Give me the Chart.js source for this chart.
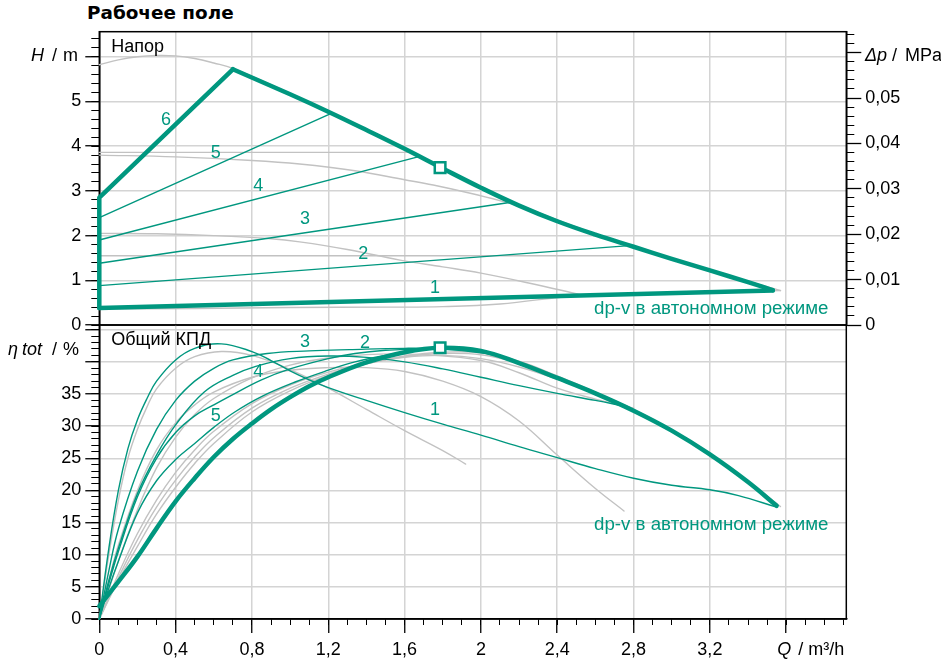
<!DOCTYPE html>
<html>
<head>
<meta charset="utf-8">
<script src="https://cdn.jsdelivr.net/npm/chart.js@4.4.1/dist/chart.umd.min.js"></script>
<style>
  html, body { margin: 0; padding: 0; background: #fff; }
  #wrap { position: relative; width: 941px; height: 663px; overflow: hidden; }
  #title { position: absolute; left: 87px; top: 2px; font: bold 18.4px "DejaVu Sans", sans-serif; color: #000; }
  canvas { position: absolute; left: 0; }
  #cHead { top: 0; }
  #cEff { top: 310px; }
</style>
</head>
<body>
<div id="wrap">
  <div id="title">Рабочее поле</div>
  <canvas id="cHead" width="941" height="345"></canvas>
  <canvas id="cEff" width="941" height="353"></canvas>
</div>
<script>
/* Рабочее поле — напор и КПД насоса (dp-v) */

// ── Axis ranges / tick labels ─────────────────────────────
const Q_MAX = 3.915, H_MAX = 6.56, ETA_MAX = 45.73;
const MPA_PER_M = 0.00985;
const qTickLabels   = [0, 0.4, 0.8, 1.2, 1.6, 2, 2.4, 2.8, 3.2];
const hTickLabels   = [0, 1, 2, 3, 4, 5];
const pTickLabels   = [0, 0.01, 0.02, 0.03, 0.04, 0.05];
const etaTickLabels = [0, 5, 10, 15, 20, 25, 30, 35];

// ── Head chart: [Q m³/h, H m] ─────────────────────────────
const headMax = [[0.70,5.72],[1.0,5.16],[1.2,4.77],[1.4,4.36],[1.6,3.94],[1.8,3.50],[2.0,3.07],[2.2,2.67],
  [2.4,2.32],[2.6,2.02],[2.8,1.75],[3.0,1.48],[3.2,1.22],[3.4,0.96],[3.53,0.78]];
const headLine6 = [[0,0.38],[0,2.85],[0.70,5.72]];
const headLine1 = [[0,0.38],[3.53,0.77]];
const headLine2 = [[0,0.88],[2.76,1.77]];
const headLine3 = [[0,1.38],[2.15,2.74]];
const headLine4 = [[0,1.90],[1.67,3.76]];
const headLine5 = [[0,2.40],[1.21,4.72]];
const headDuty  = [[1.786,3.52]];
const headGreyTop = [[0,5.82],[0.1,5.93],[0.2,6.0],[0.3,6.03],[0.4,6.02],[0.5,5.96],[0.6,5.86],[0.7,5.74],
  [1.0,5.18],[1.4,4.38],[1.8,3.52],[2.2,2.69],[2.6,2.04],[3.0,1.49],[3.3,1.10],[3.57,0.77]];
const headGreyMid = [[0,3.80],[0.4,3.76],[0.8,3.68],[1.05,3.60],[1.34,3.45],[1.6,3.25],[1.75,3.13],
  [1.95,2.94],[2.2,2.67]];
const headGreyLow = [[0,2.05],[0.3,2.04],[0.6,2.0],[0.9,1.93],[1.05,1.86],[1.3,1.69],[1.576,1.45],
  [1.8,1.3],[2.0,1.16],[2.25,0.94],[2.52,0.68]];
const headGreyMin = [[0,0.36],[0.5,0.37],[1.0,0.39],[1.5,0.40],[1.8,0.41],[2.1,0.47],[2.52,0.66],
  [3.0,0.71],[3.57,0.77]];
const headGreyConstHi = [[0,3.86],[1.63,3.86]];
const headGreyConstLo = [[0,1.55],[2.8,1.55]];

// ── Efficiency chart: [Q m³/h, η %] ───────────────────────
const etaMax = [[0,2],[0.1,5.8],[0.2,9.7],[0.3,14.1],[0.4,18.3],[0.5,21.9],[0.6,25.2],[0.7,28],[0.8,30.4],
  [0.9,32.6],[1.0,34.5],[1.1,36.2],[1.2,37.6],[1.4,39.9],[1.6,41.5],[1.786,42.2],[2.0,41.7],[2.2,39.8],
  [2.4,37.5],[2.6,35.1],[2.8,32.4],[3.0,29.3],[3.2,25.6],[3.4,21.3],[3.55,17.6]];
const eta1 = [[0,0],[0.05,11],[0.1,20],[0.15,26.5],[0.2,31],[0.25,34.3],[0.3,37],[0.4,40.3],[0.5,42.1],
  [0.64,42.8],[0.8,41.6],[0.9,40.2],[1.0,38.6],[1.1,37.2],[1.2,36],[1.4,34],[1.6,32.1],[1.8,30.3],
  [2.0,28.6],[2.2,26.8],[2.4,25.1],[2.6,23.4],[2.8,21.9],[3.0,20.8],[3.2,20.1],[3.35,19.2],[3.55,17.4]];
const eta2 = [[0,0],[0.05,6],[0.1,11],[0.2,19.5],[0.3,25.5],[0.4,30.2],[0.55,35.3],[0.7,37.9],[0.82,39.3],
  [1.0,40.5],[1.2,40.9],[1.4,40.7],[1.6,40],[1.8,38.9],[2.0,37.6],[2.2,36.3],[2.4,35.1],[2.6,34],[2.75,33.1]];
const eta3 = [[0,0],[0.05,7.5],[0.1,14],[0.2,23],[0.3,29.5],[0.4,34],[0.5,37],[0.6,39],[0.7,40.3],
  [0.88,41.3],[1.1,41.7],[1.31,41.9],[1.6,42.1],[1.8,42],[2.0,41.4],[2.15,40.5]];
const eta4 = [[0,0],[0.05,5.5],[0.1,10.5],[0.2,19],[0.3,25],[0.4,29],[0.5,31.6],[0.6,33.3],[0.68,34.6],
  [0.85,37.2],[1.0,38.9],[1.2,40.5],[1.34,41.3],[1.5,41.8],[1.67,42]];
const eta5 = [[0,0],[0.05,4.8],[0.1,9],[0.2,16.5],[0.3,21.5],[0.4,24.8],[0.5,27.3],[0.6,29.8],[0.71,32.2],
  [0.85,34.6],[1.03,36.9],[1.2,38.7],[1.34,40],[1.5,41],[1.65,41.7]];
const etaDuty = [[1.786,42.2]];
const etaGrey1 = [[0,0],[0.05,10],[0.1,18.5],[0.15,25],[0.2,29.5],[0.25,33],[0.3,35.8],[0.4,39],[0.5,40.8],
  [0.64,41.6],[0.8,41],[1.0,38.8],[1.2,35.9],[1.4,32.6],[1.6,29.3],[1.8,26.2],[1.92,24.1]];
const etaGrey2 = [[0,0],[0.05,6],[0.1,11.5],[0.2,20],[0.3,26.3],[0.4,30.5],[0.5,33.3],[0.6,35.3],[0.8,37.6],
  [1.0,38.7],[1.2,39.1],[1.4,39.1],[1.6,38.5],[1.8,37],[2.0,34.6],[2.2,30.8],[2.4,25.5],[2.6,20.3],[2.75,16.8]];
const etaGrey3 = [[0,0],[0.1,9],[0.2,17],[0.3,23.5],[0.4,28.3],[0.5,31.8],[0.6,34.3],[0.8,37.5],[1.0,39.5],
  [1.2,40.6],[1.47,41.2],[1.7,41.1],[2.0,40.2],[2.2,38.3],[2.4,35.9],[2.6,34.2],[2.8,32.8]];
const etaGrey4 = [[0,0],[0.1,7],[0.2,13.3],[0.3,18.5],[0.4,22.8],[0.5,26.3],[0.6,29.2],[0.8,33.5],[1.0,36.4],
  [1.2,38.4],[1.4,39.8],[1.6,40.7],[1.8,41],[2.0,40.5],[2.2,39.2],[2.4,37.3],[2.6,35],[2.8,32.6]];
const etaGrey5 = [[0,0],[0.1,6.4],[0.2,12.3],[0.3,17.4],[0.4,21.6],[0.5,25.2],[0.6,28.2],[0.8,32.8],[1.0,35.9],
  [1.2,38.1],[1.4,39.7],[1.6,40.8],[1.8,41.3],[2.0,41.1],[2.2,39.8],[2.4,37.6],[2.6,35.2],[2.8,32.6],
  [3.0,29.4],[3.2,25.7],[3.4,21.4],[3.57,17.5]];
const etaGrey6 = [[0,0],[0.1,6],[0.2,11.3],[0.3,16.3],[0.4,20.5],[0.5,24.2],[0.6,27.3],[0.8,32.2],[1.0,35.5],
  [1.2,37.9],[1.4,39.7],[1.6,40.9],[1.8,41.5],[2.0,41.4],[2.2,40.1],[2.4,37.8],[2.6,35.3],[2.8,32.6]];

// ── Styling ───────────────────────────────────────────────
const FONT  = "'Liberation Sans', Arial, sans-serif";
const TEAL  = '#00977f';
const GREY  = '#c2c2c2';
const GRID  = '#d4d4d4';
const BLACK = '#000';

const fmt = v => String(Math.round(v * 1000) / 1000).replace('.', ',');
const has = (list, v) => list.some(t => Math.abs(t - v) < 1e-9);

function curve(pts, color, width, yId, smooth) {
  return {
    data: pts.map(p => ({ x: p[0], y: p[1] })),
    borderColor: color, borderWidth: width, pointRadius: 0, showLine: true,
    fill: false, clip: false, yAxisID: yId, xAxisID: 'x',
    tension: smooth ? 0.4 : 0,
    borderCapStyle: 'round', borderJoinStyle: 'round'
  };
}
function marker(pts, yId) {
  return {
    data: pts.map(p => ({ x: p[0], y: p[1] })), yAxisID: yId, xAxisID: 'x',
    showLine: false, pointStyle: 'rect', pointRadius: 7.5, clip: false,
    pointBorderColor: TEAL, pointBorderWidth: 2.5, pointBackgroundColor: '#fff'
  };
}

// scale helpers: major with labels/grid, minor ticks only
function majorScale(pos, min, max, step, labels, w, extra) {
  return Object.assign({
    type: 'linear', position: pos, min, max, weight: 2,
    ticks: {
      stepSize: step, includeBounds: false, autoSkip: false, maxTicksLimit: 1000,
      color: BLACK, font: { family: FONT, size: 18 }, padding: 4,
      callback: v => has(labels, v) ? fmt(v) : ''
    },
    grid: { color: GRID, lineWidth: 1.5, tickColor: BLACK, tickWidth: 1.3, tickLength: 14 },
    border: { color: BLACK, width: 1.5 },
    afterFit: s => { if (s.isHorizontal()) s.height = w; else s.width = w; }
  }, extra || {});
}
function minorScale(pos, min, max, step, len) {
  return {
    type: 'linear', position: pos, min, max, weight: 1,
    ticks: { stepSize: step, includeBounds: false, display: false, maxTicksLimit: 1000 },
    grid: { drawOnChartArea: false, tickColor: BLACK, tickWidth: 1, tickLength: len },
    border: { display: false },
    afterFit: s => { if (s.isHorizontal()) s.height = 0; else s.width = 0; }
  };
}

const framePlugin = {
  id: 'frame',
  beforeDatasetsDraw(chart) {
    const { ctx, chartArea: a } = chart;
    ctx.save();
    ctx.strokeStyle = BLACK; ctx.lineWidth = 1.5;
    ctx.strokeRect(a.left, a.top, a.right - a.left, a.bottom - a.top);
    ctx.restore();
  }
};

function drawParts(ctx, parts, y) {
  ctx.save();
  ctx.textBaseline = 'middle'; ctx.textAlign = 'left'; ctx.fillStyle = BLACK;
  parts.forEach(p => {
    ctx.font = (p.i ? 'italic ' : '') + '18px ' + FONT;
    ctx.fillText(p.t, p.x, y);
  });
  ctx.restore();
}

function textPlugin(yId, items, corner, axisTitles) {
  return {
    id: 'texts',
    afterDatasetsDraw(chart) {
      const ctx = chart.ctx, xs = chart.scales.x, ys = chart.scales[yId], a = chart.chartArea;
      ctx.save();
      ctx.textBaseline = 'middle';
      items.forEach(it => {
        ctx.font = (it.size || 18) + 'px ' + FONT;
        ctx.fillStyle = TEAL; ctx.textAlign = it.align || 'center';
        ctx.fillText(it.t, xs.getPixelForValue(it.q), ys.getPixelForValue(it.v));
      });
      ctx.font = '18px ' + FONT;
      ctx.fillStyle = BLACK; ctx.textAlign = 'left';
      ctx.fillText(corner, a.left + 12, a.top + 15);
      ctx.restore();
      axisTitles(chart);
    }
  };
}

const baseOpts = {
  responsive: false, animation: false, events: [],
  plugins: { legend: { display: false }, tooltip: { enabled: false } }
};

// ── Head chart ────────────────────────────────────────────
const headTexts = [
  { t: '6', q: 0.35, v: 4.59 }, { t: '5', q: 0.61, v: 3.85 }, { t: '4', q: 0.833, v: 3.11 },
  { t: '3', q: 1.078, v: 2.37 }, { t: '2', q: 1.384, v: 1.58 }, { t: '1', q: 1.76, v: 0.83 },
  { t: 'dp-v в автономном режиме', q: 2.593, v: 0.36, align: 'left', size: 18.7 }
];

new Chart(document.getElementById('cHead'), {
  type: 'scatter',
  data: {
    datasets: [
      marker(headDuty, 'yH'),
      curve(headMax, TEAL, 4.5, 'yH', true),
      curve(headLine6, TEAL, 4.5, 'yH', false),
      curve(headLine1, TEAL, 4.5, 'yH', false),
      curve(headLine2, TEAL, 1.4, 'yH', false),
      curve(headLine3, TEAL, 1.4, 'yH', false),
      curve(headLine4, TEAL, 1.4, 'yH', false),
      curve(headLine5, TEAL, 1.4, 'yH', false),
      curve(headGreyTop, GREY, 1.4, 'yH', true),
      curve(headGreyMid, GREY, 1.4, 'yH', true),
      curve(headGreyLow, GREY, 1.4, 'yH', true),
      curve(headGreyMin, GREY, 1.4, 'yH', true),
      curve(headGreyConstHi, GREY, 1.4, 'yH', false),
      curve(headGreyConstLo, GREY, 1.4, 'yH', false)
    ]
  },
  options: Object.assign({}, baseOpts, {
    layout: { padding: { top: 31.7, bottom: 20, left: 0, right: 0 } },
    scales: {
      x: {
        type: 'linear', position: 'bottom', min: 0, max: Q_MAX,
        ticks: { stepSize: 0.4, includeBounds: false, display: false, maxTicksLimit: 1000 },
        grid: { color: GRID, lineWidth: 1.5, drawTicks: false },
        border: { display: false },
        afterFit: s => { s.height = 0; }
      },
      yH: majorScale('left', 0, H_MAX, 1, hTickLabels, 99.3),
      yHm: minorScale('left', 0, H_MAX, 0.2, 8),
      yP: majorScale('right', 0, H_MAX * MPA_PER_M, 0.01, pTickLabels, 94.7,
        { grid: { drawOnChartArea: false, tickColor: BLACK, tickWidth: 1.3, tickLength: 15 } }),
      yPm: minorScale('right', 0, H_MAX * MPA_PER_M, 0.002, 8)
    }
  }),
  plugins: [framePlugin, textPlugin('yH', headTexts, 'Напор', chart => {
    const y = chart.scales.yH.getPixelForValue(6) - 1;
    drawParts(chart.ctx, [{ t: 'H', x: 31, i: true }, { t: '/', x: 52 }, { t: 'm', x: 63 }], y);
    drawParts(chart.ctx, [{ t: 'Δp', x: 865, i: true }, { t: '/', x: 892 }, { t: 'MPa', x: 905 }], y);
  })]
});

// ── Efficiency chart ──────────────────────────────────────
const etaTexts = [
  { t: '3', q: 1.078, v: 43.1 }, { t: '2', q: 1.392, v: 43.0 }, { t: '4', q: 0.833, v: 38.4 },
  { t: '5', q: 0.61, v: 31.5 }, { t: '1', q: 1.76, v: 32.5 },
  { t: 'dp-v в автономном режиме', q: 2.593, v: 14.6, align: 'left', size: 18.7 }
];

new Chart(document.getElementById('cEff'), {
  type: 'scatter',
  data: {
    datasets: [
      marker(etaDuty, 'yE'),
      curve(etaMax, TEAL, 4.5, 'yE', true),
      curve(eta1, TEAL, 1.4, 'yE', true),
      curve(eta2, TEAL, 1.4, 'yE', true),
      curve(eta3, TEAL, 1.4, 'yE', true),
      curve(eta4, TEAL, 1.4, 'yE', true),
      curve(eta5, TEAL, 1.4, 'yE', true),
      curve(etaGrey1, GREY, 1.4, 'yE', true),
      curve(etaGrey2, GREY, 1.4, 'yE', true),
      curve(etaGrey3, GREY, 1.4, 'yE', true),
      curve(etaGrey4, GREY, 1.4, 'yE', true),
      curve(etaGrey5, GREY, 1.4, 'yE', true),
      curve(etaGrey6, GREY, 1.4, 'yE', true)
    ]
  },
  options: Object.assign({}, baseOpts, {
    layout: { padding: { top: 15, bottom: 0, left: 0, right: 94.7 } },
    scales: {
      x: majorScale('bottom', 0, Q_MAX, 0.4, qTickLabels, 44, {
        ticks: {
          stepSize: 0.4, includeBounds: false, autoSkip: false, maxTicksLimit: 1000, maxRotation: 0,
          color: BLACK, font: { family: FONT, size: 18 }, padding: 6,
          callback: v => has(qTickLabels, v) ? fmt(v) : ''
        }
      }),
      xm: minorScale('bottom', 0, Q_MAX, 0.1, 6),
      yE: majorScale('left', 0, ETA_MAX, 5, etaTickLabels, 99.3),
      yEm: minorScale('left', 0, ETA_MAX, 1, 8)
    }
  }),
  plugins: [framePlugin, textPlugin('yE', etaTexts, 'Общий КПД', chart => {
    const ctx = chart.ctx;
    const yEta = chart.scales.yE.getPixelForValue(41.8);
    drawParts(ctx, [{ t: 'η', x: 8, i: true }, { t: 'tot', x: 22, i: true }, { t: '/', x: 52 }, { t: '%', x: 63 }], yEta);
    const xs = chart.scales.x;
    const yQ = xs.bottom - 44 + 31;
    const x0 = xs.getPixelForValue(3.6);
    drawParts(ctx, [{ t: 'Q', x: x0 - 9, i: true }, { t: '/', x: x0 + 12 }, { t: 'm³/h', x: x0 + 22 }], yQ);
  })]
});
</script>
</body>
</html>
